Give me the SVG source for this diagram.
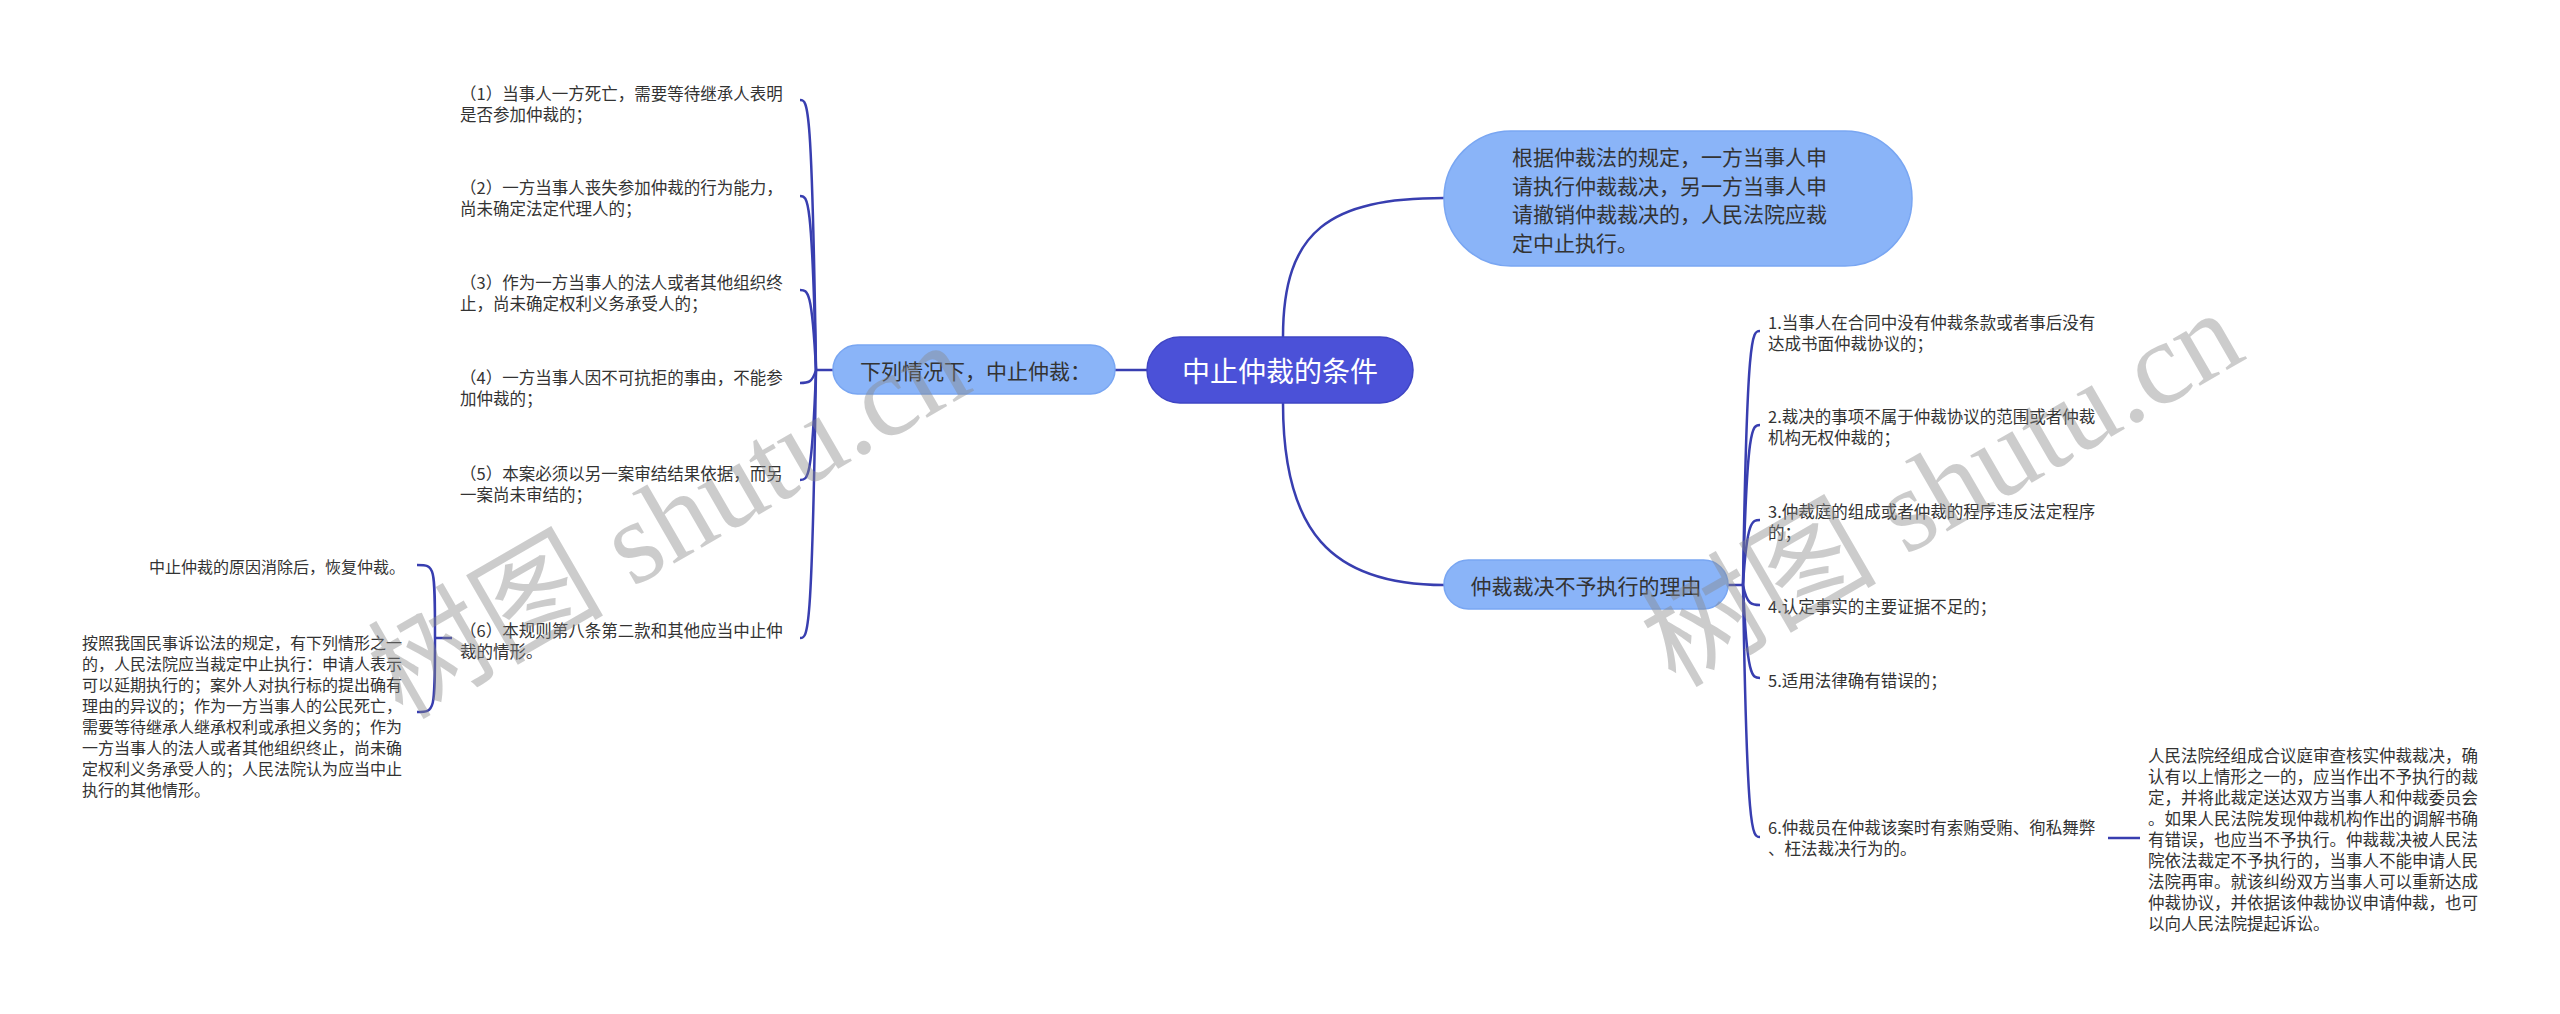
<svg xmlns="http://www.w3.org/2000/svg" width="2560" height="1014" viewBox="0 0 2560 1014">
<style>
text{font-family:"Noto Sans CJK SC","Noto Sans",sans-serif;fill:#333;dominant-baseline:central}
.s{font-size:16.5px}
.t{font-size:16px}
.m{font-size:21px}
.root{fill:#4B51D8;stroke:#3F45C4;stroke-width:1.5}
.lb{fill:#8AB4F8;stroke:#79A6F2;stroke-width:1.5}
.rt{fill:#fff;font-size:28px}
#connectors path{fill:none;stroke:#383EB0;stroke-width:2.5}
.wm{font-family:"Liberation Serif","Noto Sans CJK SC",serif;font-size:118px;fill:#888;opacity:0.42;dominant-baseline:auto}
</style>
<rect width="2560" height="1014" fill="#fff"/>
<g id="connectors">
<path d="M1283,337 C1283,230 1330,198 1444,198"/>
<path d="M1283,403 C1283,530 1330,585 1444,585"/>
<path d="M1147,370 L1115,370"/>
<path d="M833,370 L816,370"/>
<path d="M816,370 C812,100 808,100 800,100"/>
<path d="M816,370 C812,196 808,196 800,196"/>
<path d="M816,370 C812,290 808,290 800,290"/>
<path d="M816,370 C812,383 808,383 800,383"/>
<path d="M816,370 C812,480 808,480 800,480"/>
<path d="M816,370 C812,638 808,638 800,638"/>
<path d="M452,638 L435,638"/>
<path d="M435,638 C435,565 435,565 417,565"/>
<path d="M435,638 C435,712 435,712 417,712"/>
<path d="M1728,585 L1743,585"/>
<path d="M1743,585 C1747,331 1752,331 1760,331"/>
<path d="M1743,585 C1747,425 1752,425 1760,425"/>
<path d="M1743,585 C1747,520 1752,520 1760,520"/>
<path d="M1743,585 C1747,605 1752,605 1760,605"/>
<path d="M1743,585 C1747,678 1752,678 1760,678"/>
<path d="M1743,585 C1747,837 1752,837 1760,837"/>
<path d="M2108,838 L2140,838"/>
</g>
<g id="root">
<rect class="root" x="1147" y="337" width="266" height="66" rx="33"/>
<text class="rt" x="1280" y="370" text-anchor="middle">中止仲裁的条件</text>
</g>
<g id="n-court">
<rect class="lb" x="1444" y="131" width="468" height="135" rx="67"/>
<text class="m" x="1512" y="156">根据仲裁法的规定，一方当事人申</text>
<text class="m" x="1512" y="184.5">请执行仲裁裁决，另一方当事人申</text>
<text class="m" x="1512" y="213">请撤销仲裁裁决的，人民法院应裁</text>
<text class="m" x="1512" y="241.5">定中止执行。</text>
</g>
<g id="n-reasons">
<rect class="lb" x="1444" y="560" width="284" height="49" rx="24.5"/>
<text class="m" x="1586" y="585" text-anchor="middle">仲裁裁决不予执行的理由</text>
</g>
<g id="n-cases">
<rect class="lb" x="833" y="345" width="282" height="49" rx="24.5"/>
<text class="m" x="860" y="370">下列情况下，中止仲裁：</text>
</g>
<g id="l1"><text class="s" x="460" y="93">（1）当事人一方死亡，需要等待继承人表明</text><text class="s" x="460" y="114">是否参加仲裁的；</text></g>
<g id="l2"><text class="s" x="460" y="187">（2）一方当事人丧失参加仲裁的行为能力，</text><text class="s" x="460" y="208">尚未确定法定代理人的；</text></g>
<g id="l3"><text class="s" x="460" y="282">（3）作为一方当事人的法人或者其他组织终</text><text class="s" x="460" y="303">止，尚未确定权利义务承受人的；</text></g>
<g id="l4"><text class="s" x="460" y="377">（4）一方当事人因不可抗拒的事由，不能参</text><text class="s" x="460" y="398">加仲裁的；</text></g>
<g id="l5"><text class="s" x="460" y="473">（5）本案必须以另一案审结结果依据，而另</text><text class="s" x="460" y="494">一案尚未审结的；</text></g>
<g id="l6"><text class="s" x="460" y="630">（6）本规则第八条第二款和其他应当中止仲</text><text class="s" x="460" y="651">裁的情形。</text></g>
<g id="l6a"><text class="t" x="405" y="566" text-anchor="end">中止仲裁的原因消除后，恢复仲裁。</text></g>
<g id="l6b">
<text class="t" x="82" y="642">按照我国民事诉讼法的规定，有下列情形之一</text>
<text class="t" x="82" y="663">的，人民法院应当裁定中止执行：申请人表示</text>
<text class="t" x="82" y="684">可以延期执行的；案外人对执行标的提出确有</text>
<text class="t" x="82" y="705">理由的异议的；作为一方当事人的公民死亡，</text>
<text class="t" x="82" y="726">需要等待继承人继承权利或承担义务的；作为</text>
<text class="t" x="82" y="747">一方当事人的法人或者其他组织终止，尚未确</text>
<text class="t" x="82" y="768">定权利义务承受人的；人民法院认为应当中止</text>
<text class="t" x="82" y="789">执行的其他情形。</text>
</g>
<g id="r1"><text class="s" x="1768" y="322">1.当事人在合同中没有仲裁条款或者事后没有</text><text class="s" x="1768" y="343">达成书面仲裁协议的；</text></g>
<g id="r2"><text class="s" x="1768" y="416">2.裁决的事项不属于仲裁协议的范围或者仲裁</text><text class="s" x="1768" y="437">机构无权仲裁的；</text></g>
<g id="r3"><text class="s" x="1768" y="511">3.仲裁庭的组成或者仲裁的程序违反法定程序</text><text class="s" x="1768" y="532">的；</text></g>
<g id="r4"><text class="s" x="1768" y="606">4.认定事实的主要证据不足的；</text></g>
<g id="r5"><text class="s" x="1768" y="680">5.适用法律确有错误的；</text></g>
<g id="r6"><text class="s" x="1768" y="827">6.仲裁员在仲裁该案时有索贿受贿、徇私舞弊</text><text class="s" x="1768" y="848">、枉法裁决行为的。</text></g>
<g id="r6a">
<text class="s" x="2148" y="755">人民法院经组成合议庭审查核实仲裁裁决，确</text>
<text class="s" x="2148" y="776">认有以上情形之一的，应当作出不予执行的裁</text>
<text class="s" x="2148" y="797">定，并将此裁定送达双方当事人和仲裁委员会</text>
<text class="s" x="2148" y="818">。如果人民法院发现仲裁机构作出的调解书确</text>
<text class="s" x="2148" y="839">有错误，也应当不予执行。仲裁裁决被人民法</text>
<text class="s" x="2148" y="860">院依法裁定不予执行的，当事人不能申请人民</text>
<text class="s" x="2148" y="881">法院再审。就该纠纷双方当事人可以重新达成</text>
<text class="s" x="2148" y="902">仲裁协议，并依据该仲裁协议申请仲裁，也可</text>
<text class="s" x="2148" y="923">以向人民法院提起诉讼。</text>
</g>
<g id="watermark">
<text class="wm" x="670" y="560" text-anchor="middle" transform="rotate(-30 670 522)">树图 shutu.cn</text>
<text class="wm" x="1943" y="528" text-anchor="middle" transform="rotate(-30 1943 490)">树图 shutu.cn</text>
</g>
</svg>
